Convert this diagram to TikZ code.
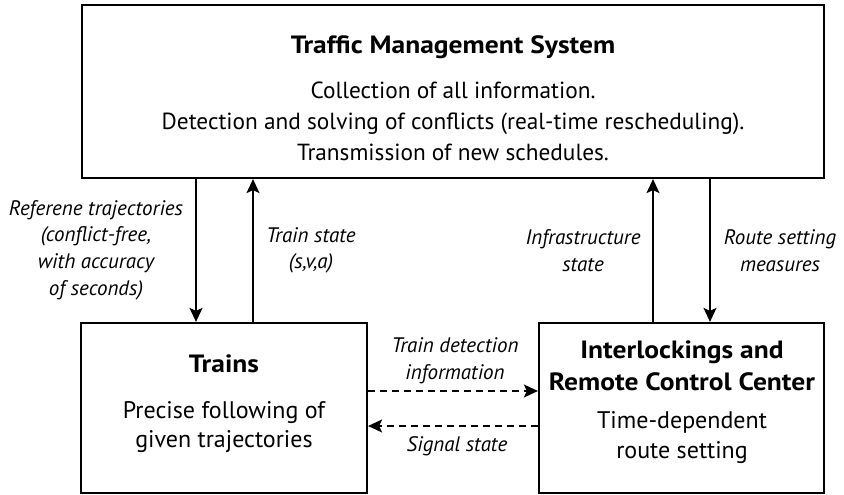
\documentclass[tikz,border=0pt]{standalone}
\usepackage{fontspec}
\setmainfont{PT Sans}
\newfontfamily\titlefont[FakeStretch=1.1]{PT Sans Bold}
\usetikzlibrary{arrows.meta}
\begin{document}
\begin{tikzpicture}[x=1pt,y=-1pt,
  box/.style={draw=black, line width=2.2pt, inner sep=0pt},
  title/.style={font=\fontsize{25}{29}\titlefont, align=center, inner sep=0pt},
  body/.style={font=\fontsize{23.3}{31}\selectfont, align=center, inner sep=0pt},
  lbl/.style={font=\fontsize{21}{26.7}\selectfont\itshape, align=center, inner sep=0pt},
  arr/.style={line width=2pt, -{Stealth[length=14pt,width=13pt,inset=3pt]}},
  darr/.style={line width=1.6pt, dash pattern=on 7pt off 5pt, -{Stealth[length=14pt,width=13pt,inset=3pt]}}
]
\useasboundingbox (0,0) rectangle (844,495);
% boxes
\node[box, minimum width=742pt, minimum height=173pt] (tms) at (453,91.5) {};
\node[box, minimum width=286pt, minimum height=170pt] (trains) at (224,408) {};
\node[box, minimum width=285pt, minimum height=170pt] (ilk) at (681.5,408) {};
% texts
\node[title] (tmsT) at (453,47) {Traffic Management System};
\node[body] (tmsB) at (453,121) {Collection of all information.\\Detection and solving of conflicts (real-time rescheduling).\\Transmission of new schedules.};
\node[title] (trT) at (224,364) {Trains};
\node[body, font=\fontsize{24}{29}\selectfont] (trB) at (224,427.5) {Precise following of\\given trajectories};
\node[title, font=\fontsize{25}{32}\titlefont] (ilT) at (682,366) {Interlockings and\\Remote Control Center};
\node[body, font=\fontsize{24}{30}\selectfont] (ilB) at (682,438) {Time-dependent\\route setting};
% x positions of vertical connectors
\coordinate (xa) at (196,0);
\coordinate (xb) at (253,0);
\coordinate (xc) at (653,0);
\coordinate (xd) at (710,0);
\coordinate (ya) at (0,391);
\coordinate (yb) at (0,426);
% connectors
\draw[arr] (xa |- tms.south) -- (xa |- trains.north);
\draw[arr] (xb |- trains.north) -- (xb |- tms.south);
\draw[arr] (xc |- ilk.north) -- (xc |- tms.south);
\draw[arr] (xd |- tms.south) -- (xd |- ilk.north);
\draw[darr] (trains.east |- ya) -- (ilk.west |- ya);
\draw[darr] (ilk.west |- yb) -- (trains.east |- yb);
% labels
\node[lbl] (l1) at (96,250) {Referene trajectories\\(conflict-free,\\with accuracy\\of seconds)};
\node[lbl] (l2) at (311,250.5) {Train state\\(s,v,a)};
\node[lbl] (l3) at (583,250.5) {Infrastructure\\state};
\node[lbl] (l4) at (780,250.5) {Route setting\\measures};
\node[lbl] (l5) at (455,361) {Train detection\\information};
\node[lbl] (l6) at (457,446) {Signal state};
\end{tikzpicture}
\end{document}
